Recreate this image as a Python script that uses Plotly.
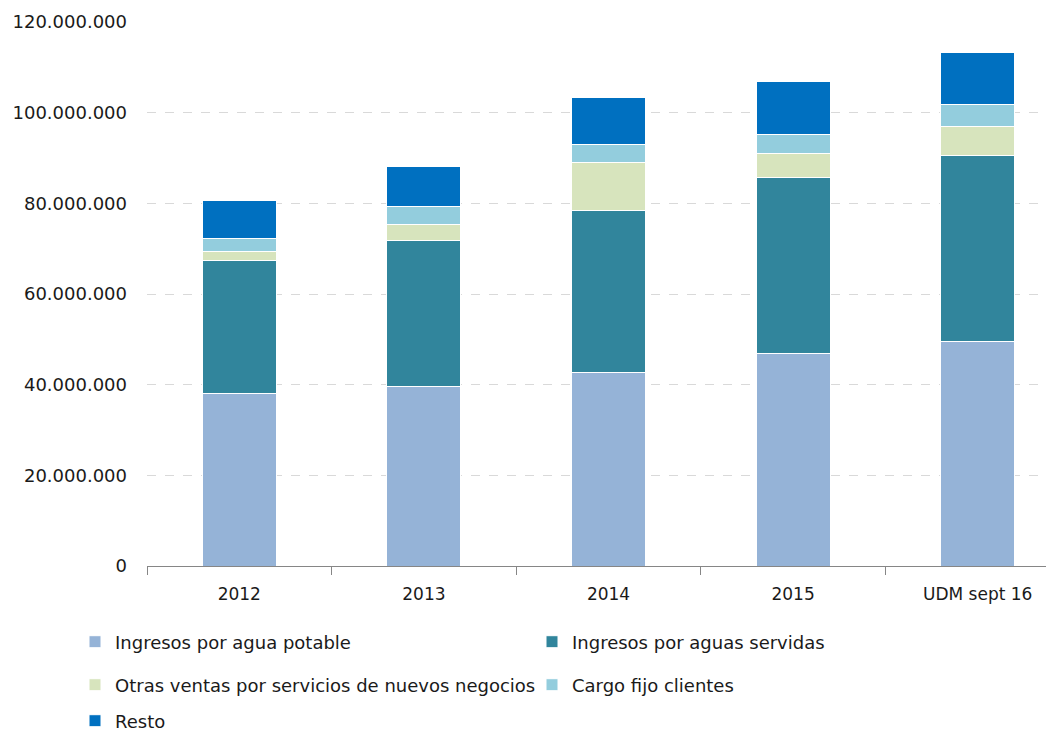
import plotly.graph_objects as go

categories = ["2012", "2013", "2014", "2015", "UDM sept 16"]
agua_potable = [38.1e6, 39.6e6, 42.6e6, 46.9e6, 49.5e6]
aguas_servidas = [29.2e6, 32.3e6, 35.8e6, 38.7e6, 41.0e6]
otras_ventas = [2.0e6, 3.5e6, 10.7e6, 5.4e6, 6.5e6]
cargo_fijo = [3.0e6, 3.8e6, 3.8e6, 4.2e6, 4.7e6]
resto = [8.3e6, 9.0e6, 10.5e6, 11.6e6, 11.6e6]

series = [
    ("Ingresos por agua potable", agua_potable, "#95B3D7", "legend"),
    ("Ingresos por aguas servidas", aguas_servidas, "#31859C", "legend"),
    ("Otras ventas por servicios de nuevos negocios", otras_ventas, "#D7E4BD", "legend2"),
    ("Cargo fijo clientes", cargo_fijo, "#93CDDD", "legend2"),
    ("Resto", resto, "#0070C0", "legend3"),
]

FONT = "DejaVu Sans"
TXT = "#1a1a1a"
FS = 18

fig = go.Figure()
for name, vals, color, lg in series:
    fig.add_trace(go.Bar(
        x=categories, y=vals, name=name, legend=lg,
        marker=dict(color=color, line=dict(color="white", width=1)),
    ))

# page has an 8px body margin
OFF = 8
W, H = 1054 - OFF, 733 - OFF
plot_left, plot_top, plot_h = 147 - OFF, 22 - OFF, 544
plot_w = W - plot_left

def py(page_y):
    return (plot_top + plot_h - (page_y - OFF)) / plot_h

legend_common = dict(
    orientation="h", xanchor="left", yanchor="middle",
    x=(67 - plot_left) / plot_w,
    entrywidth=412, entrywidthmode="pixels",
    font=dict(family=FONT, size=FS, color=TXT),
    bgcolor="rgba(0,0,0,0)", traceorder="normal",
)

fig.update_layout(
    width=W, height=H,
    margin=dict(l=plot_left, r=0, t=plot_top, b=H - plot_top - plot_h, autoexpand=False),
    barmode="stack", bargap=0.6,
    plot_bgcolor="white", paper_bgcolor="white",
    separators=",.",
    font=dict(family=FONT, size=FS, color=TXT),
    legend=dict(legend_common, y=py(642)),
    legend2=dict(legend_common, y=py(685)),
    legend3=dict(legend_common, y=py(721)),
    xaxis=dict(
        range=[-0.5, -0.5 + plot_w / 184.6], automargin=False,
        showline=True, linecolor="#868686", linewidth=1,
        ticks="outside", tickson="boundaries", ticklen=8, tickcolor="#868686",
        showgrid=False, ticklabelstandoff=13,
        tickfont=dict(family=FONT, size=FS - 1, color=TXT),
    ),
    yaxis=dict(
        range=[0, 120e6], dtick=20e6, tickformat=",.0f", automargin=False,
        showline=False, zeroline=False,
        gridcolor="#d9d9d9", griddash="dash", gridwidth=1,
        ticks="", ticklabelstandoff=19,
        tickfont=dict(family=FONT, size=FS, color=TXT),
    ),
)

fig.write_html("out.html")
